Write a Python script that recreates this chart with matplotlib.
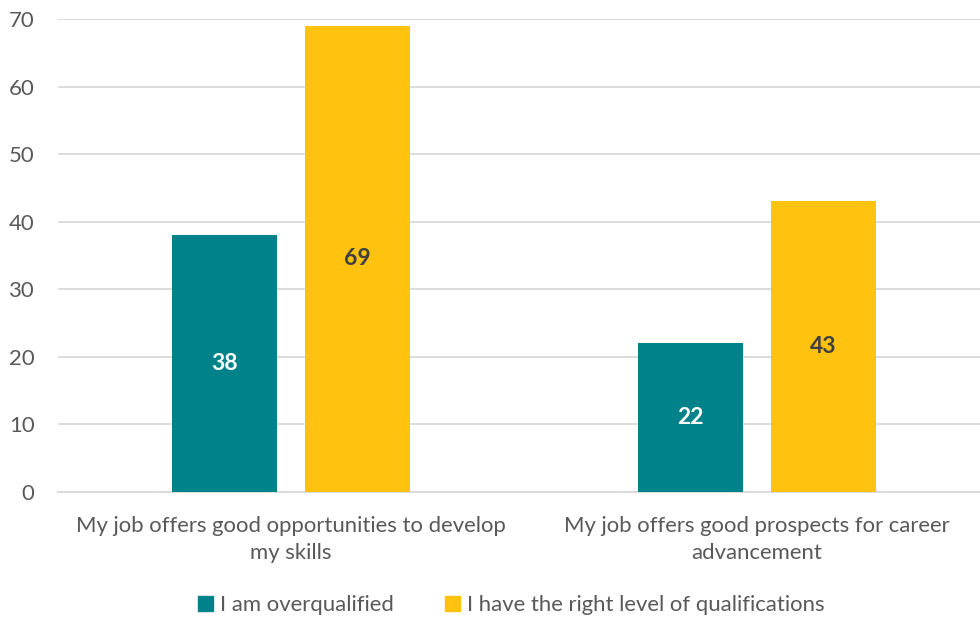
import matplotlib
matplotlib.use("Agg")
import matplotlib.pyplot as plt
import numpy as np
from matplotlib.patches import Patch

categories = ["My job offers good opportunities to develop\nmy skills",
              "My job offers good prospects for career\nadvancement"]
series_names = ["I am overqualified", "I have the right level of qualifications"]
overqualified = [38, 22]
right_level = [69, 43]
yticks = [0, 10, 20, 30, 40, 50, 60, 70]

teal = "#00828A"
yellow = "#FFC20E"
text_gray = "#595959"
grid_gray = "#D9D9D9"

plt.rcParams["font.family"] = ["Lato", "DejaVu Sans"]
fs = 15.9

fig = plt.figure(figsize=(9.8, 6.19), dpi=100)
ax = fig.add_axes([58 / 980, (619 - 492) / 619, (980 - 58) / 980, (492 - 19) / 619])

x = np.arange(len(categories))
width = 0.225
offset = 0.1427

b1 = ax.bar(x - offset, overqualified, width, color=teal, zorder=3)
b2 = ax.bar(x + offset, right_level, width, color=yellow, zorder=3)

for rect, v in zip(b1, overqualified):
    ax.text(rect.get_x() + rect.get_width() / 2, v / 2, f"{v}",
            ha="center", va="center", color="white", fontsize=16.5, fontweight="bold", zorder=4)
for rect, v in zip(b2, right_level):
    ax.text(rect.get_x() + rect.get_width() / 2, v / 2, f"{v}",
            ha="center", va="center", color="#404040", fontsize=16.5, fontweight="bold", zorder=4)

ax.set_ylim(0, 70)
ax.set_xlim(-0.5, 1 + 223 / 466)
ax.set_yticks(yticks)
ax.set_yticklabels([str(t) for t in yticks], fontsize=fs, color=text_gray)
ax.set_xticks(x)
ax.set_xticklabels(categories, fontsize=fs, color=text_gray, linespacing=1.45)
ax.tick_params(axis="both", length=0)
ax.tick_params(axis="y", pad=17)
ax.tick_params(axis="x", pad=17)

ax.grid(axis="y", color=grid_gray, linewidth=1.3, zorder=0)
for s in ["top", "right", "left"]:
    ax.spines[s].set_visible(False)
ax.spines["bottom"].set_color(grid_gray)
ax.spines["bottom"].set_linewidth(1.3)

handles = [Patch(color=teal), Patch(color=yellow)]
fig.legend(handles, series_names, loc="center", bbox_to_anchor=(511 / 980, 1 - 605 / 619),
           ncol=2, frameon=False, fontsize=fs, labelcolor=text_gray,
           handlelength=0.7, handleheight=0.7, handletextpad=0.3, columnspacing=2.3)

fig.savefig("out.png", dpi=100)
